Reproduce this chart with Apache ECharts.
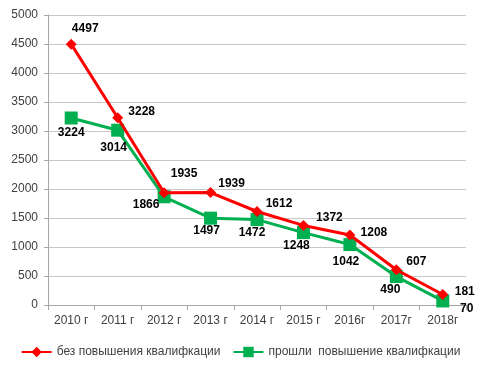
<!DOCTYPE html>
<html><head><meta charset="utf-8">
<script src="https://cdn.jsdelivr.net/npm/echarts@6/dist/echarts.min.js"></script>
<style>html,body{margin:0;padding:0;background:#fff}#c{width:481px;height:372px}</style>
</head><body><div id="c"></div>
<script>
var categories = ['2010 г','2011 г','2012 г','2013 г','2014 г','2015 г','2016г','2017г','2018г'];
var seriesNames = ['без повышения квалифкации','прошли  повышение квалифкации'];
var withoutTraining = [4497,3228,1935,1939,1612,1372,1208,607,181];
var withTraining = [3224,3014,1866,1497,1472,1248,1042,490,70];
var yTicks = [0,500,1000,1500,2000,2500,3000,3500,4000,4500,5000];

var redOffsets = [[14,-15],[24,-6],[20,-19],[21,-9],[22,-8],[26,-8],[24,-2],[20,-8],[22,-3]];
var greenOffsets = [[0,15],[-4,17],[-18,8],[-4,13],[-5,13],[-7,13],[-4,17],[-6,13],[24,8]];

function mk(vals, offs){
  return vals.map(function(v,i){return {value:v,label:{offset:offs[i]}};});
}
var chart = echarts.init(document.getElementById('c'));
var lbl = {show:true,position:'inside',fontFamily:'Liberation Sans, Arial',fontWeight:'bold',fontSize:12,color:'#000'};
chart.setOption({
  animation:false,
  grid:{left:48,right:15,top:15,bottom:67},
  legend:{bottom:9,left:'center',itemWidth:30,itemHeight:13,itemGap:12,
    textStyle:{fontFamily:'Liberation Sans, Arial',fontSize:12,color:'#404040'},
    data:[seriesNames[0],seriesNames[1]]},
  xAxis:{type:'category',data:categories,boundaryGap:true,
    axisLine:{lineStyle:{color:'#a6a6a6'}},
    axisTick:{show:true,lineStyle:{color:'#a6a6a6'}},
    axisLabel:{fontFamily:'Liberation Sans, Arial',fontSize:12,color:'#404040',margin:10}},
  yAxis:{type:'value',min:yTicks[0],max:yTicks[yTicks.length-1],interval:500,
    axisLine:{show:true,lineStyle:{color:'#a6a6a6'}},
    axisTick:{show:true,length:4,lineStyle:{color:'#a6a6a6'}},
    splitLine:{lineStyle:{color:'#c8c8c8',width:1}},
    axisLabel:{fontFamily:'Liberation Sans, Arial',fontSize:12,color:'#404040',margin:10,
      formatter:function(v){return String(v);}}},
  series:[
    {name:seriesNames[0],type:'line',data:mk(withoutTraining,redOffsets),symbol:'diamond',symbolSize:11,
     lineStyle:{color:'#ff0000',width:3},itemStyle:{color:'#ff0000'},label:lbl,z:3},
    {name:seriesNames[1],type:'line',data:mk(withTraining,greenOffsets),symbol:'rect',symbolSize:13,
     lineStyle:{color:'#00b050',width:3},itemStyle:{color:'#00b050'},label:lbl,z:2}
  ]
});
</script></body></html>
